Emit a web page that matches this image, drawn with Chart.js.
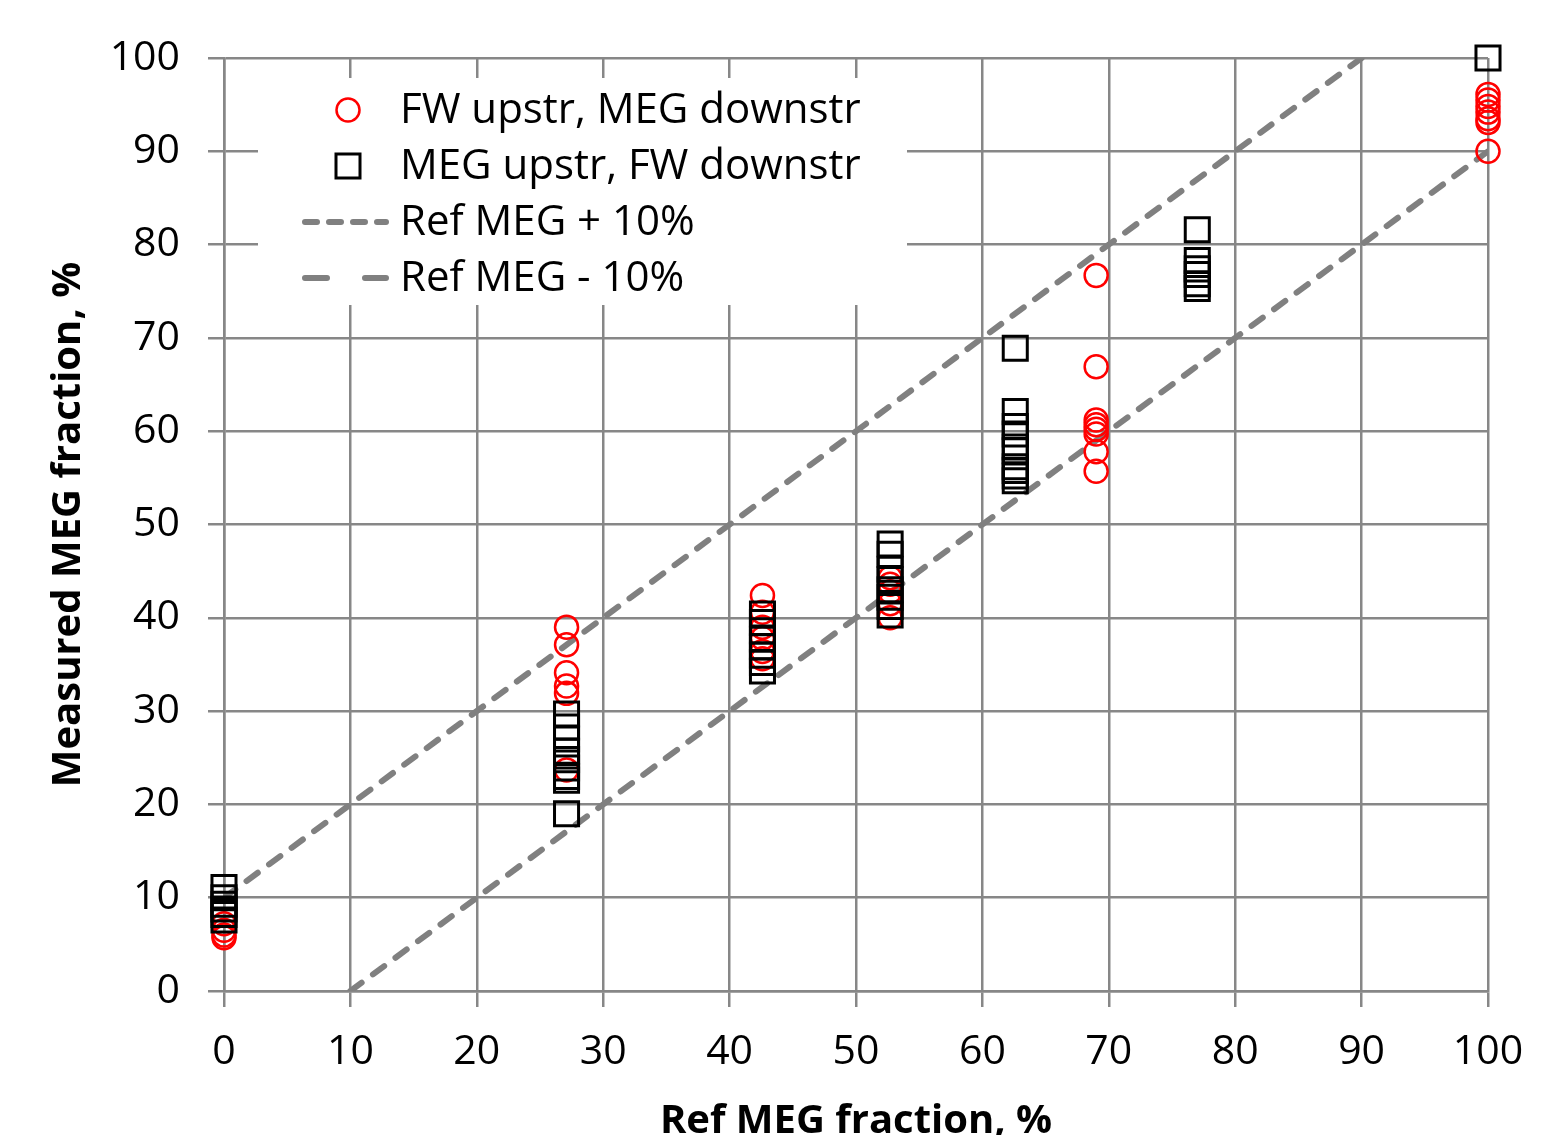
<!DOCTYPE html>
<html>
<head>
<meta charset="utf-8">
<script src="https://cdn.jsdelivr.net/npm/chart.js@4.4.1/dist/chart.umd.min.js"></script>
<style>
  html, body { margin: 0; padding: 0; background: #fff; overflow: hidden; }
  #wrap { width: 1566px; height: 1160px; }
</style>
</head>
<body>
<div id="wrap"><canvas id="megChart" width="1566" height="1160"></canvas></div>
<script>
// FW upstream, MEG downstream (red circles)
const fwX = [0, 0, 0, 0,
  27.1, 27.1, 27.1, 27.1, 27.1, 27.1,
  42.6, 42.6, 42.6, 42.6, 42.6, 42.6,
  52.7, 52.7, 52.7, 52.7, 52.7,
  69.0, 69.0, 69.0, 69.0, 69.0, 69.0, 69.0, 69.0,
  100, 100, 100, 100, 100, 100, 100];
const fwY = [5.7, 6.0, 6.5, 7.2,
  39.0, 37.1, 34.1, 32.7, 31.9, 23.7,
  42.4, 40.6, 39.0, 37.8, 36.4, 35.6,
  44.3, 43.6, 42.8, 41.5, 40.0,
  76.7, 66.9, 61.2, 60.7, 60.2, 59.7, 57.8, 55.7,
  96.1, 95.5, 94.8, 94.2, 93.5, 93.1, 90.0];

// MEG upstream, FW downstream (black squares)
const megX = [0, 0, 0, 0, 0, 0,
  27.1, 27.1, 27.1, 27.1, 27.1, 27.1, 27.1, 27.1, 27.1,
  42.6, 42.6, 42.6, 42.6, 42.6, 42.6, 42.6, 42.6,
  52.7, 52.7, 52.7, 52.7, 52.7, 52.7, 52.7, 52.7,
  62.6, 62.6, 62.6, 62.6, 62.6, 62.6, 62.6, 62.6, 62.6, 62.6,
  77.0, 77.0, 77.0, 77.0, 77.0, 77.0,
  100];
const megY = [11.1, 10.0, 9.3, 8.8, 8.2, 7.6,
  29.7, 28.3, 27.0, 25.7, 24.8, 23.9, 23.0, 22.6, 19.0,
  40.4, 39.5, 38.6, 37.7, 36.9, 36.0, 35.2, 34.3,
  47.9, 46.8, 45.2, 44.1, 43.0, 42.2, 41.2, 40.3,
  68.9, 62.1, 60.5, 59.7, 58.3, 57.9, 56.2, 55.8, 55.2, 54.7,
  81.6, 78.3, 77.4, 76.8, 75.8, 75.3,
  100];

// reference lines
const plusX = [0, 90];
const plusY = [10, 100];
const minusX = [10, 100];
const minusY = [0, 90];

const tickValues = [0, 10, 20, 30, 40, 50, 60, 70, 80, 90, 100];

const FONT = "'Open Sans', 'Liberation Sans', sans-serif";
const GRID = "#878787";
const REFLINE = "#808080";

function pts(xs, ys) {
  return xs.map((x, i) => ({ x: x, y: ys[i] }));
}

// legend drawn inside the plot on a white box
const insideLegend = {
  id: "insideLegend",
  afterDatasetsDraw(chart) {
    const ctx = chart.ctx;
    ctx.save();
    ctx.fillStyle = "#fff";
    ctx.fillRect(258, 78, 649, 227);
    ctx.font = "42px " + FONT;
    ctx.textBaseline = "middle";
    ctx.fillStyle = "#000";
    const items = [
      { label: "FW upstr, MEG downstr", kind: "circle" },
      { label: "MEG upstr, FW downstr", kind: "square" },
      { label: "Ref MEG + 10%", kind: "line", dash: [12, 12] },
      { label: "Ref MEG - 10%", kind: "line", dash: [22, 38] }
    ];
    items.forEach((it, i) => {
      const y = 110 + i * 56;
      if (it.kind === "circle") {
        ctx.beginPath();
        ctx.strokeStyle = "#ff0000";
        ctx.lineWidth = 2.5;
        ctx.arc(348, y, 11.5, 0, Math.PI * 2);
        ctx.stroke();
      } else if (it.kind === "square") {
        ctx.strokeStyle = "#000";
        ctx.lineWidth = 3;
        ctx.strokeRect(336, y - 12, 24, 24);
      } else {
        ctx.strokeStyle = REFLINE;
        ctx.lineWidth = 6;
        ctx.lineCap = "round";
        ctx.setLineDash(it.dash);
        ctx.beginPath();
        ctx.moveTo(305, y);
        ctx.lineTo(386, y);
        ctx.stroke();
        ctx.setLineDash([]);
      }
      ctx.fillStyle = "#000";
      ctx.fillText(it.label, 400, y + 1);
    });
    ctx.restore();
  }
};

new Chart(document.getElementById("megChart"), {
  type: "scatter",
  data: {
    datasets: [
      {
        label: "Ref MEG + 10%",
        type: "line",
        data: pts(plusX, plusY),
        borderColor: REFLINE,
        borderWidth: 6,
        borderDash: [14, 14],
        borderCapStyle: "round",
        pointRadius: 0,
        fill: false,
        order: 3
      },
      {
        label: "Ref MEG - 10%",
        type: "line",
        data: pts(minusX, minusY),
        borderColor: REFLINE,
        borderWidth: 6,
        borderDash: [14, 14],
        borderCapStyle: "round",
        pointRadius: 0,
        fill: false,
        order: 3
      },
      {
        label: "FW upstr, MEG downstr",
        data: pts(fwX, fwY),
        pointStyle: "circle",
        pointRadius: 11.5,
        pointBorderWidth: 2.5,
        pointBorderColor: "#ff0000",
        pointBackgroundColor: "rgba(0,0,0,0)",
        clip: false,
        order: 2
      },
      {
        label: "MEG upstr, FW downstr",
        data: pts(megX, megY),
        pointStyle: "rect",
        pointRadius: 17,
        pointBorderWidth: 3,
        pointBorderColor: "#000000",
        pointBackgroundColor: "rgba(0,0,0,0)",
        clip: false,
        order: 1
      }
    ]
  },
  options: {
    responsive: false,
    animation: false,
    devicePixelRatio: 1,
    layout: { padding: { top: 58, left: 0, right: 78, bottom: 0 } },
    plugins: {
      legend: { display: false },
      tooltip: { enabled: false }
    },
    scales: {
      x: {
        type: "linear",
        min: 0,
        max: 100,
        afterBuildTicks: (axis) => { axis.ticks = tickValues.map(v => ({ value: v })); },
        afterFit: (axis) => { axis.height = 169; },
        grid: { color: GRID, lineWidth: 2.5, tickLength: 16 },
        border: { color: GRID, width: 2.5 },
        ticks: { color: "#000", padding: 21, font: { family: FONT, size: 41 } },
        title: {
          display: true,
          text: "Ref MEG fraction, %",
          color: "#000",
          font: { family: FONT, size: 40, weight: "bold" },
          padding: { top: 0, bottom: 14 }
        }
      },
      y: {
        type: "linear",
        min: 0,
        max: 100,
        afterBuildTicks: (axis) => { axis.ticks = tickValues.map(v => ({ value: v })); },
        afterFit: (axis) => { axis.width = 224; },
        grid: { color: GRID, lineWidth: 2.5, tickLength: 16 },
        border: { color: GRID, width: 2.5 },
        ticks: { color: "#000", padding: 28, font: { family: FONT, size: 41 } },
        title: {
          display: true,
          text: "Measured MEG fraction, %",
          color: "#000",
          font: { family: FONT, size: 40, weight: "bold" },
          padding: { top: 45, bottom: 0 }
        }
      }
    }
  },
  plugins: [insideLegend]
});
</script>
</body>
</html>
